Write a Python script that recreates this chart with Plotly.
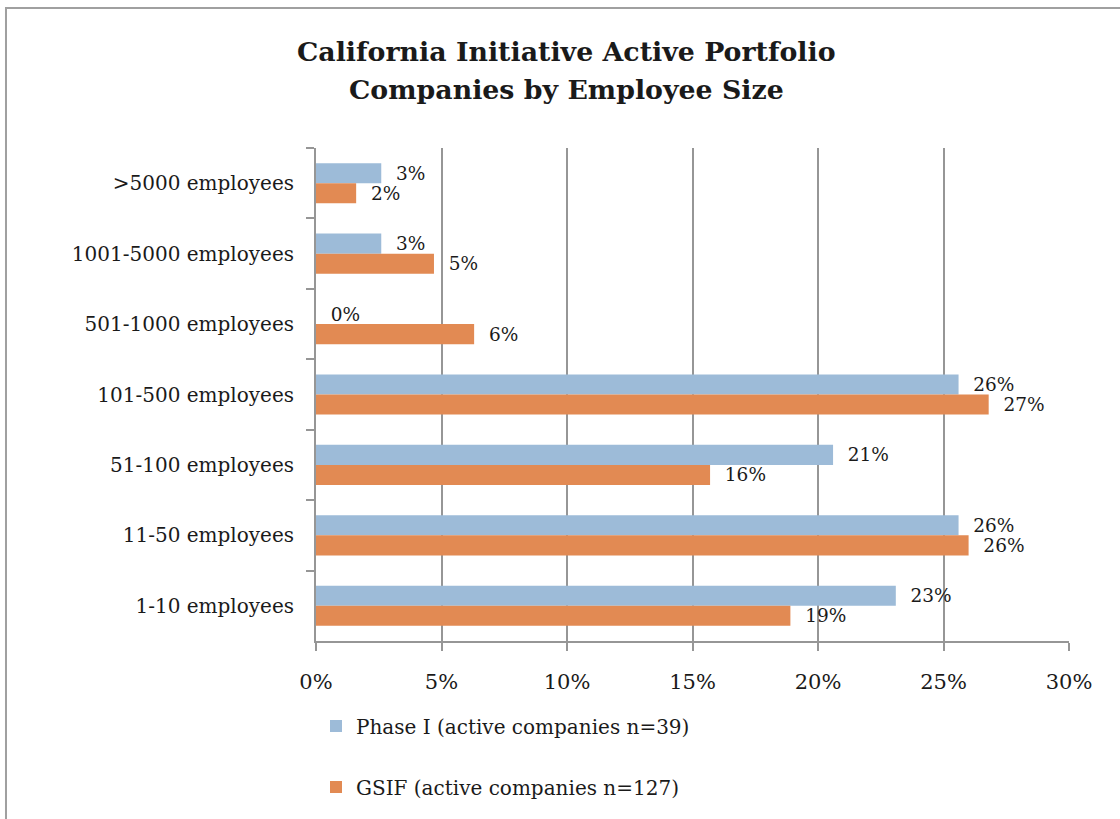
import plotly.graph_objects as go

# Categories listed top to bottom as they appear in the chart
categories = [">5000 employees", "1001-5000 employees", "501-1000 employees",
              "101-500 employees", "51-100 employees", "11-50 employees", "1-10 employees"]
phase1_pct = [2.6, 2.6, 0.0, 25.6, 20.6, 25.6, 23.1]
gsif_pct = [1.6, 4.7, 6.3, 26.8, 15.7, 26.0, 18.9]
series_names = ["Phase I (active companies n=39)", "GSIF (active companies n=127)"]
x_ticks = [0, 5, 10, 15, 20, 25, 30]
x_tick_labels = ["0%", "5%", "10%", "15%", "20%", "25%", "30%"]
title_lines = ["California Initiative Active Portfolio", "Companies by Employee Size"]

FONT = "DejaVu Serif"
TXT = "#1a1a1a"
GRID = "#969696"
NB = "\u00a0"

fig = go.Figure()
for name, vals, col, grp in [(series_names[0], phase1_pct, "#9DBBD8", "g1"),
                             (series_names[1], gsif_pct, "#E28A53", "g2")]:
    fig.add_trace(go.Bar(
        y=categories, x=vals, name=name, orientation="h",
        marker=dict(color=col, line=dict(width=0)),
        texttemplate=NB + NB + "%{x:.0f}%", textposition="outside",
        constraintext="none",
        textfont=dict(family=FONT, size=18.5, color=TXT),
        cliponaxis=False, legendgroup=grp,
    ))

fig.add_annotation(text="<b>" + title_lines[0] + "</b>", xref="paper", yref="paper",
                   x=0.3333, y=1.196, xanchor="center", yanchor="middle", showarrow=False,
                   font=dict(family=FONT, size=26.8, color=TXT))
fig.add_annotation(text="<b>" + title_lines[1] + "</b>", xref="paper", yref="paper",
                   x=0.3333, y=1.119, xanchor="center", yanchor="middle", showarrow=False,
                   font=dict(family=FONT, size=26.8, color=TXT))

# outer chart border
fig.add_shape(type="rect", xref="paper", yref="paper", x0=-0.4117, y0=-0.6, x1=1.3, y1=1.284,
              line=dict(color="#a0a0a0", width=2), fillcolor="rgba(0,0,0,0)", layer="below")

fig.update_layout(
    width=1120, height=819,
    margin=dict(l=316, r=51, t=148, b=178, autoexpand=False),
    paper_bgcolor="white", plot_bgcolor="white",
    barmode="group", bargap=0.43, bargroupgap=0,
    showlegend=True,
    legend=dict(x=0.0, xanchor="left", y=-0.133, yanchor="top", orientation="v",
                font=dict(family=FONT, size=20, color=TXT), tracegroupgap=32,
                bgcolor="rgba(0,0,0,0)"),
    xaxis=dict(range=[0, 30], tickmode="array", tickvals=x_ticks, ticktext=x_tick_labels,
               showgrid=True, gridcolor=GRID, gridwidth=2,
               showline=True, linecolor=GRID, linewidth=2,
               ticks="outside", ticklen=8, tickwidth=2, tickcolor=GRID,
               tickfont=dict(family=FONT, size=21, color=TXT),
               ticklabelstandoff=13, zeroline=False, fixedrange=True),
    yaxis=dict(categoryorder="array", categoryarray=categories, autorange="reversed",
               showline=True, linecolor=GRID, linewidth=2,
               ticks="outside", ticklen=8, tickwidth=2, tickcolor=GRID,
               tickson="boundaries", showgrid=False,
               tickfont=dict(family=FONT, size=20, color=TXT),
               ticklabelstandoff=16, fixedrange=True),
)

fig.write_html("out.html", config={"displayModeBar": False},
               post_script="document.body.style.margin='0';document.body.style.overflow='hidden';")
